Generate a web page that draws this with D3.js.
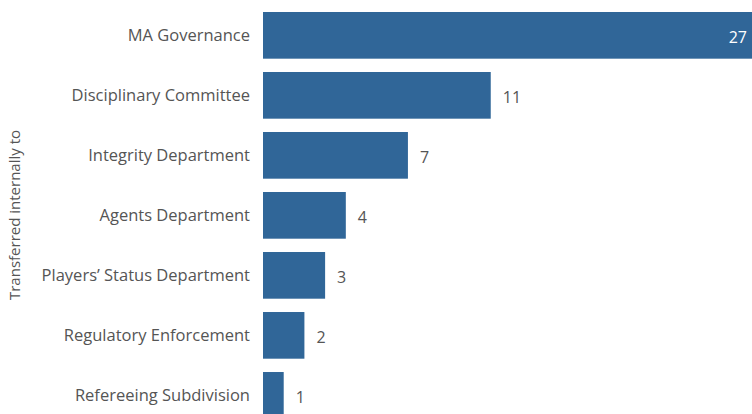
<!DOCTYPE html>
<html>
<head>
<meta charset="utf-8">
<script src="https://cdn.jsdelivr.net/npm/d3@7"></script>
<style>
  html, body { margin: 0; padding: 0; background: #fff; }
  svg { display: block; font-family: "Open Sans", "Noto Sans", sans-serif; }
</style>
</head>
<body>
<svg id="chart" width="752" height="414"></svg>
<script>
// Internal transfers by receiving unit
const categories = [
  "MA Governance",
  "Disciplinary Committee",
  "Integrity Department",
  "Agents Department",
  "Players\u2019 Status Department",
  "Regulatory Enforcement",
  "Refereeing Subdivision"
];
const counts = [27, 11, 7, 4, 3, 2, 1];
const axisTitle = "Transferred internally to";

const width = 752, height = 414;
const barColor = "#306698";
const textColor = "#555555";

const svg = d3.select("#chart");

const x = d3.scaleLinear()
  .domain([0, 27])
  .range([263, 822]);

const y = d3.scaleBand()
  .domain(categories)
  .range([0, 430.7])
  .paddingInner(0.222)
  .paddingOuter(0.2);

// bars
svg.append("g")
  .selectAll("rect")
  .data(categories)
  .join("rect")
  .attr("x", x(0))
  .attr("y", d => y(d))
  .attr("width", (d, i) => x(counts[i]) - x(0))
  .attr("height", y.bandwidth())
  .attr("fill", barColor);

// value labels: outside the bar end, or inside when the bar reaches the edge
svg.append("g")
  .selectAll("text")
  .data(categories)
  .join("text")
  .attr("y", d => y(d) + y.bandwidth() / 2 + 2)
  .attr("dy", "0.35em")
  .attr("font-size", 16)
  .each(function (d, i) {
    const end = x(counts[i]);
    const sel = d3.select(this).text(counts[i]);
    if (end > width - 40) {
      sel.attr("x", width - 5).attr("text-anchor", "end").attr("fill", "#ffffff");
    } else {
      sel.attr("x", end + 12).attr("text-anchor", "start").attr("fill", textColor);
    }
  });

// category axis
const yAxis = d3.axisLeft(y).tickSize(0).tickPadding(0);
const gy = svg.append("g")
  .attr("transform", "translate(250,0.5)")
  .call(yAxis);
gy.select(".domain").remove();
gy.selectAll("text")
  .attr("font-size", 16.5)
  .attr("font-family", "\"Open Sans\", \"Noto Sans\", sans-serif")
  .attr("fill", textColor);

// axis title
svg.append("text")
  .attr("transform", "translate(15,215) rotate(-90)")
  .attr("text-anchor", "middle")
  .attr("dy", "0.35em")
  .attr("font-size", 15)
  .attr("fill", textColor)
  .text(axisTitle);
</script>
</body>
</html>
